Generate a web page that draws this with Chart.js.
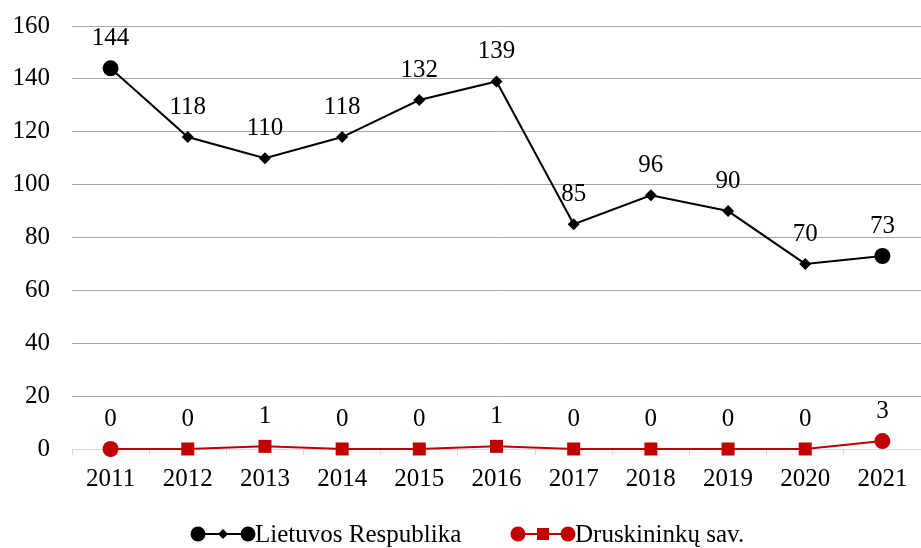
<!DOCTYPE html>
<html>
<head>
<meta charset="utf-8">
<script src="https://cdn.jsdelivr.net/npm/chart.js@4"></script>
<style>
    html, body { margin: 0; padding: 0; background: #fff; overflow: hidden; }
    #wrap { width: 921px; height: 548px; position: relative; }
</style>
</head>
<body>
<div id="wrap"><canvas id="chart"></canvas></div>
<script>
const years = ['2011', '2012', '2013', '2014', '2015', '2016', '2017', '2018', '2019', '2020', '2021'];
const lietuva = [144, 118, 110, 118, 132, 139, 85, 96, 90, 70, 73];
const druskininkai = [0, 0, 1, 0, 0, 1, 0, 0, 0, 0, 3];
const yTicks = [0, 20, 40, 60, 80, 100, 120, 140, 160];
const seriesNames = ['Lietuvos Respublika', 'Druskininkų sav.'];

const FONT = 'Liberation Serif, Times New Roman, serif';
const FONT_SIZE = 25;
const RED = '#C00000';

// first and last points get a big circle, the rest their own marker
const endStyle = mid => years.map((_, i) => (i === 0 || i === years.length - 1) ? 'circle' : mid);
const endRadius = mid => years.map((_, i) => (i === 0 || i === years.length - 1) ? 8 : mid);

const valueLabels = {
    id: 'valueLabels',
    afterDatasetsDraw(chart) {
        const ctx = chart.ctx;
        ctx.save();
        ctx.font = FONT_SIZE + 'px ' + FONT;
        ctx.fillStyle = '#000';
        ctx.textAlign = 'center';
        ctx.textBaseline = 'middle';
        chart.data.datasets.forEach((ds, di) => {
            chart.getDatasetMeta(di).data.forEach((pt, i) => {
                ctx.fillText(String(ds.data[i]), pt.x, pt.y - 30);
            });
        });
        ctx.restore();
    }
};

const lineLegend = {
    id: 'lineLegend',
    afterDraw(chart) {
        const ctx = chart.ctx;
        const y = 534;
        const items = [
            { x: 198, color: '#000', mid: 'diamond', text: seriesNames[0] },
            { x: 518, color: RED, mid: 'square', text: seriesNames[1] }
        ];
        ctx.save();
        items.forEach(it => {
            ctx.strokeStyle = it.color;
            ctx.fillStyle = it.color;
            ctx.lineWidth = 2;
            ctx.beginPath();
            ctx.moveTo(it.x, y);
            ctx.lineTo(it.x + 50, y);
            ctx.stroke();
            [it.x, it.x + 50].forEach(cx => {
                ctx.beginPath();
                ctx.arc(cx, y, 7.5, 0, Math.PI * 2);
                ctx.fill();
            });
            const mx = it.x + 25;
            ctx.beginPath();
            if (it.mid === 'diamond') {
                ctx.moveTo(mx, y - 5); ctx.lineTo(mx + 5, y); ctx.lineTo(mx, y + 5); ctx.lineTo(mx - 5, y);
                ctx.closePath();
                ctx.fill();
            } else {
                ctx.fillRect(mx - 6, y - 6, 12, 12);
            }
            ctx.font = FONT_SIZE + 'px ' + FONT;
            ctx.fillStyle = '#000';
            ctx.textAlign = 'left';
            ctx.textBaseline = 'middle';
            ctx.fillText(it.text, it.x + 57, y + 1);
        });
        ctx.restore();
    }
};

new Chart(document.getElementById('chart'), {
    type: 'line',
    data: {
        labels: years,
        datasets: [
            {
                label: seriesNames[0],
                data: lietuva,
                borderColor: '#000',
                backgroundColor: '#000',
                borderWidth: 2,
                pointStyle: endStyle('rectRot'),
                pointRadius: endRadius(6),
                pointBorderWidth: 0,
                tension: 0,
                clip: false
            },
            {
                label: seriesNames[1],
                data: druskininkai,
                borderColor: RED,
                backgroundColor: RED,
                borderWidth: 2,
                pointStyle: endStyle('rect'),
                pointRadius: endRadius(9.2),
                pointBorderWidth: 0,
                tension: 0,
                clip: false
            }
        ]
    },
    options: {
        responsive: true,
        maintainAspectRatio: false,
        animation: false,
        layout: { autoPadding: false, padding: { top: 26, right: 0, bottom: 59, left: 0 } },
        plugins: { legend: { display: false }, tooltip: { enabled: false } },
        scales: {
            x: {
                offset: true,
                afterFit: axis => { axis.height = 40; axis.paddingLeft = 0; axis.paddingRight = 0; },
                grid: { offset: true, drawOnChartArea: false, color: '#D9D9D9', tickLength: 6 },
                border: { color: '#D9D9D9', width: 1 },
                ticks: { color: '#000', font: { family: FONT, size: FONT_SIZE }, padding: 9, maxRotation: 0 }
            },
            y: {
                min: 0,
                max: 160,
                afterBuildTicks: axis => { axis.ticks = yTicks.map(v => ({ value: v })); },
                afterFit: axis => { axis.width = 72; axis.paddingTop = 0; axis.paddingBottom = 0; },
                grid: { color: '#A6A6A6', drawTicks: false },
                border: { display: false },
                ticks: { color: '#000', font: { family: FONT, size: FONT_SIZE }, padding: 22 }
            }
        }
    },
    plugins: [valueLabels, lineLegend]
});
</script>
</body>
</html>
